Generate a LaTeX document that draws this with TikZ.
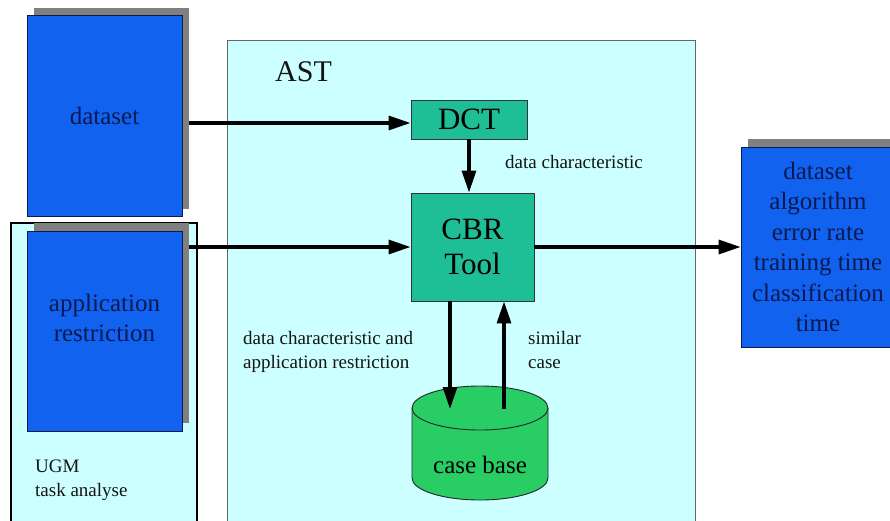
\documentclass[tikz,border=0pt]{standalone}
\usepackage{fontspec}
\setmainfont{Liberation Serif}
\usetikzlibrary{arrows.meta}
\definecolor{boxblue}{RGB}{18,98,240}
\definecolor{navytext}{RGB}{10,25,80}
\definecolor{panelcyan}{RGB}{204,255,255}
\definecolor{toolteal}{RGB}{30,190,150}
\definecolor{basegreen}{RGB}{40,205,100}
\definecolor{shadowgray}{RGB}{128,128,128}
\definecolor{darktext}{RGB}{20,20,20}
\begin{document}
\begin{tikzpicture}[x=1pt,y=-1pt,
  shadowbox/.style={fill=shadowgray, draw=none, inner sep=0pt},
  bluebox/.style={fill=boxblue, draw=navytext, line width=0.8pt, inner sep=0pt,
    text=navytext, align=center, font=\fontsize{25}{30.5}\selectfont},
  toolbox/.style={fill=toolteal, draw=black!80, line width=0.9pt, inner sep=0pt,
    text=black, align=center, font=\fontsize{31}{35}\selectfont},
  note/.style={text=darktext, align=left, inner sep=0pt,
    font=\fontsize{19}{24}\selectfont},
  flow/.style={line width=3.2pt, -{Triangle[length=22pt,width=14pt]}}]
\useasboundingbox (0,0) rectangle (890,520);
\clip (0,0) rectangle (890,520);
\fill[white] (0,0) rectangle (890,520);

% AST panel
\node[fill=panelcyan, draw=black!60, line width=0.8pt, minimum width=468pt,
  minimum height=500pt, inner sep=0pt] (ast) at (461,290) {};
\node[anchor=west, inner sep=0pt, font=\fontsize{30}{35}\selectfont, text=darktext]
  (asttitle) at (275,72) {AST};

% UGM frame
\node[fill=panelcyan, draw=black, line width=2.6pt, minimum width=186pt,
  minimum height=310pt, inner sep=0pt] (ugm) at (104,378) {};
\node[note, anchor=north west] (ugmtext) at (35,460) {UGM\\task analyse};

% dataset
\node[shadowbox, minimum width=155pt, minimum height=201pt] (dsshadow) at (111.5,108.5) {};
\node[bluebox, minimum width=155pt, minimum height=201pt] (ds) at (104.5,115.5) {dataset};

% application restriction
\node[shadowbox, minimum width=155pt, minimum height=200pt] (arshadow) at (111.5,323) {};
\node[bluebox, minimum width=155pt, minimum height=200pt] (ar) at (104.5,331) {};
\node[bluebox, fill=none, draw=none] (artext) at (104.5,318) {application\\restriction};

% result
\node[shadowbox, minimum width=154pt, minimum height=200pt] (resshadow) at (825,239) {};
\node[bluebox, minimum width=154pt, minimum height=200pt] (res) at (818,247)
  {dataset\\algorithm\\error rate\\training time\\classification\\time};

% tools
\node[toolbox, minimum width=116pt, minimum height=39pt] (dct) at (469,119.5) {DCT};
\node[toolbox, minimum width=123pt, minimum height=108pt] (cbr) at (472.5,247) {CBR\\Tool};

% case base cylinder
\fill[basegreen] (412,408) -- (412,478) arc[start angle=180, end angle=0,
  x radius=68, y radius=22] -- (548,408) -- cycle;
\draw[black!85, line width=0.9pt] (412,408) -- (412,478) arc[start angle=180,
  end angle=0, x radius=68, y radius=22] -- (548,408);
\draw[black!85, line width=0.9pt, fill=basegreen] (480,408) ellipse [x radius=68, y radius=22];
\node[inner sep=0pt, font=\fontsize{25}{30}\selectfont, text=black] (cb) at (480,465) {case base};
\coordinate (cbin) at (450,409);
\coordinate (cbout) at (504,409);

% connectors
\draw[flow] (dsshadow.east |- 0,123) -- (dct.west |- 0,123);
\draw[flow] (dct.south) -- (dct.south |- cbr.north);
\draw[flow] (arshadow.east |- cbr.west) -- (cbr.west);
\draw[flow] (cbr.east) -- (res.west |- cbr.east);
\draw[flow] (cbin |- cbr.south) -- (cbin);
\draw[flow] (cbout) -- (cbout |- cbr.south);

% labels
\node[note, anchor=west] (lbldc) at (505,162) {data characteristic};
\node[note, anchor=north west] (lbldcar) at (243,331)
  {data characteristic and\\application restriction};
\node[note, anchor=north west] (lblsim) at (528,331) {similar\\case};
\end{tikzpicture}
\end{document}
